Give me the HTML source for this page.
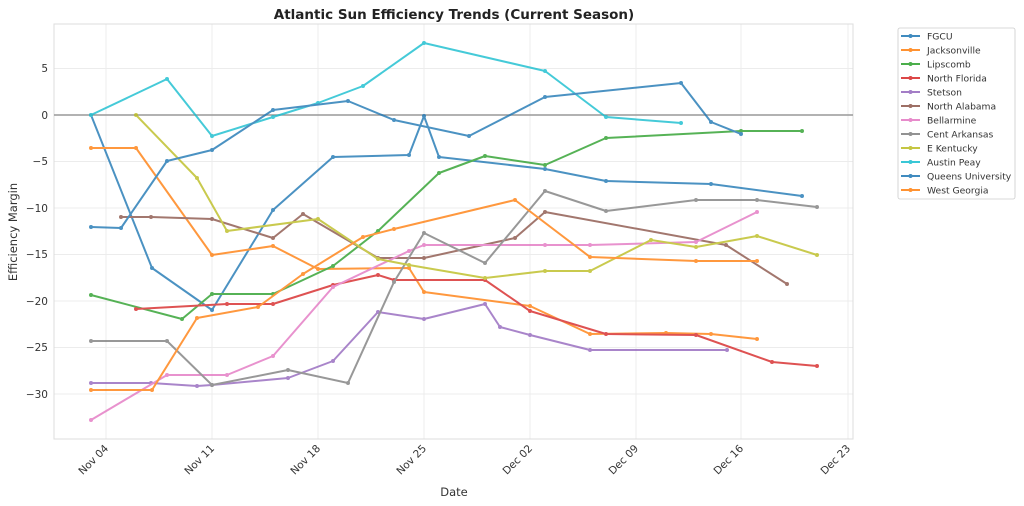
<!DOCTYPE html>
<html><head><meta charset="utf-8"><style>html,body{margin:0;padding:0;background:#fff}svg{display:block}text{font-family:"DejaVu Sans","Liberation Sans",sans-serif;fill:#333}</style></head><body>
<svg width="1024" height="506" viewBox="0 0 1024 506" xmlns="http://www.w3.org/2000/svg">
<defs>
<marker id="m1" markerUnits="userSpaceOnUse" markerWidth="6" markerHeight="6" refX="3" refY="3"><circle cx="3" cy="3" r="2" fill="#1f77b4"/></marker>
<marker id="m2" markerUnits="userSpaceOnUse" markerWidth="6" markerHeight="6" refX="3" refY="3"><circle cx="3" cy="3" r="2" fill="#ff7f0e"/></marker>
<marker id="m3" markerUnits="userSpaceOnUse" markerWidth="6" markerHeight="6" refX="3" refY="3"><circle cx="3" cy="3" r="2" fill="#2ca02c"/></marker>
<marker id="m4" markerUnits="userSpaceOnUse" markerWidth="6" markerHeight="6" refX="3" refY="3"><circle cx="3" cy="3" r="2" fill="#d62728"/></marker>
<marker id="m5" markerUnits="userSpaceOnUse" markerWidth="6" markerHeight="6" refX="3" refY="3"><circle cx="3" cy="3" r="2" fill="#9467bd"/></marker>
<marker id="m6" markerUnits="userSpaceOnUse" markerWidth="6" markerHeight="6" refX="3" refY="3"><circle cx="3" cy="3" r="2" fill="#8c564b"/></marker>
<marker id="m7" markerUnits="userSpaceOnUse" markerWidth="6" markerHeight="6" refX="3" refY="3"><circle cx="3" cy="3" r="2" fill="#e377c2"/></marker>
<marker id="m8" markerUnits="userSpaceOnUse" markerWidth="6" markerHeight="6" refX="3" refY="3"><circle cx="3" cy="3" r="2" fill="#7f7f7f"/></marker>
<marker id="m9" markerUnits="userSpaceOnUse" markerWidth="6" markerHeight="6" refX="3" refY="3"><circle cx="3" cy="3" r="2" fill="#bcbd22"/></marker>
<marker id="m10" markerUnits="userSpaceOnUse" markerWidth="6" markerHeight="6" refX="3" refY="3"><circle cx="3" cy="3" r="2" fill="#17becf"/></marker>
</defs>
<rect width="1024" height="506" fill="#fff"/>
<text x="454" y="19" text-anchor="middle" font-size="13.5" font-weight="bold" style="fill:#222">Atlantic Sun Efficiency Trends (Current Season)</text>
<g stroke="#ececec" stroke-width="1">
<line x1="106" y1="24" x2="106" y2="439"/><line x1="212" y1="24" x2="212" y2="439"/><line x1="318" y1="24" x2="318" y2="439"/><line x1="424" y1="24" x2="424" y2="439"/><line x1="530" y1="24" x2="530" y2="439"/><line x1="636" y1="24" x2="636" y2="439"/><line x1="741" y1="24" x2="741" y2="439"/><line x1="848" y1="24" x2="848" y2="439"/>
<line x1="54" y1="68.5" x2="853" y2="68.5"/><line x1="54" y1="161.5" x2="853" y2="161.5"/><line x1="54" y1="208" x2="853" y2="208"/><line x1="54" y1="254.5" x2="853" y2="254.5"/><line x1="54" y1="301" x2="853" y2="301"/><line x1="54" y1="347.5" x2="853" y2="347.5"/><line x1="54" y1="394" x2="853" y2="394"/>
</g>
<rect x="54" y="24" width="799" height="415" fill="none" stroke="#ddd" stroke-width="1"/>
<line x1="54" y1="115" x2="853" y2="115" stroke="#999" stroke-width="1.5"/>
<g font-size="10.5" text-anchor="end">
<text x="48" y="72">5</text><text x="48" y="119">0</text><text x="48" y="165">−5</text><text x="48" y="212">−10</text><text x="48" y="258">−15</text><text x="48" y="305">−20</text><text x="48" y="351">−25</text><text x="48" y="398">−30</text>
</g>
<g font-size="10.5" text-anchor="end">
<text transform="translate(109,449) rotate(-45)">Nov 04</text><text transform="translate(215,449) rotate(-45)">Nov 11</text><text transform="translate(321,449) rotate(-45)">Nov 18</text><text transform="translate(427,449) rotate(-45)">Nov 25</text><text transform="translate(533,449) rotate(-45)">Dec 02</text><text transform="translate(639,449) rotate(-45)">Dec 09</text><text transform="translate(744,449) rotate(-45)">Dec 16</text><text transform="translate(851,449) rotate(-45)">Dec 23</text>
</g>
<text x="454" y="496" text-anchor="middle" font-size="11.5">Date</text>
<text transform="translate(17,232) rotate(-90)" text-anchor="middle" font-size="11.5">Efficiency Margin</text>
<g fill="none" stroke-width="2" stroke-linejoin="round" opacity="0.8">
<polyline stroke="#1f77b4" marker-start="url(#m1)" marker-mid="url(#m1)" marker-end="url(#m1)" points="91,115 152,268 212,310 273,210 333,157 409,155 424,116 439,157 545,169 606,181 711,184 802,196"/>
<polyline stroke="#ff7f0e" marker-start="url(#m2)" marker-mid="url(#m2)" marker-end="url(#m2)" points="91,148 136,148 212,255 273,246 318,269 409,268 424,292 530,306 590,334 666,333 711,334 757,339"/>
<polyline stroke="#2ca02c" marker-start="url(#m3)" marker-mid="url(#m3)" marker-end="url(#m3)" points="91,295 182,319 212,294 273,294 333,266 378,231 439,173 485,156 545,165 606,138 741,131 802,131"/>
<polyline stroke="#d62728" marker-start="url(#m4)" marker-mid="url(#m4)" marker-end="url(#m4)" points="136,309 227,304 273,304 333,285 378,275 394,280 485,280 530,311 606,334 696,335 772,362 817,366"/>
<polyline stroke="#9467bd" marker-start="url(#m5)" marker-mid="url(#m5)" marker-end="url(#m5)" points="91,383 151,383 197,386 212,385 288,378 333,361 378,312 424,319 485,304 500,327 530,335 590,350 727,350"/>
<polyline stroke="#8c564b" marker-start="url(#m6)" marker-mid="url(#m6)" marker-end="url(#m6)" points="121,217 151,217 212,219 273,238 303,214 378,258 424,258 515,238 545,212 726,245 787,284"/>
<polyline stroke="#e377c2" marker-start="url(#m7)" marker-mid="url(#m7)" marker-end="url(#m7)" points="91,420 167,375 227,375 273,356 333,287 409,251 424,245 545,245 590,245 696,242 757,212"/>
<polyline stroke="#7f7f7f" marker-start="url(#m8)" marker-mid="url(#m8)" marker-end="url(#m8)" points="91,341 167,341 212,385 288,370 348,383 394,282 424,233 485,263 545,191 606,211 696,200 757,200 817,207"/>
<polyline stroke="#bcbd22" marker-start="url(#m9)" marker-mid="url(#m9)" marker-end="url(#m9)" points="136,115 197,178 227,231 318,219 378,259 409,265 485,278 545,271 590,271 651,240 696,247 757,236 817,255"/>
<polyline stroke="#17becf" marker-start="url(#m10)" marker-mid="url(#m10)" marker-end="url(#m10)" points="91,115 167,79 212,136 273,117 318,103 363,86 424,43 545,71 606,117 681,123"/>
<polyline stroke="#1f77b4" marker-start="url(#m1)" marker-mid="url(#m1)" marker-end="url(#m1)" points="91,227 121,228 167,161 212,150 273,110 348,101 394,120 469,136 545,97 681,83 711,122 741,134"/>
<polyline stroke="#ff7f0e" marker-start="url(#m2)" marker-mid="url(#m2)" marker-end="url(#m2)" points="91,390 152,390 197,318 258,307 303,274 363,237 394,229 515,200 590,257 696,261 757,261"/>
</g>
<rect x="898" y="28" width="117" height="171" fill="#fff" stroke="#ccc" stroke-width="0.8" rx="2"/>
<g font-size="9.2">
<g stroke-width="2" opacity="0.85"><polyline points="901,36 910.5,36 920,36" stroke="#1f77b4" marker-mid="url(#m1)"/><polyline points="901,50 910.5,50 920,50" stroke="#ff7f0e" marker-mid="url(#m2)"/><polyline points="901,64 910.5,64 920,64" stroke="#2ca02c" marker-mid="url(#m3)"/><polyline points="901,78 910.5,78 920,78" stroke="#d62728" marker-mid="url(#m4)"/><polyline points="901,92 910.5,92 920,92" stroke="#9467bd" marker-mid="url(#m5)"/><polyline points="901,106 910.5,106 920,106" stroke="#8c564b" marker-mid="url(#m6)"/><polyline points="901,120 910.5,120 920,120" stroke="#e377c2" marker-mid="url(#m7)"/><polyline points="901,134 910.5,134 920,134" stroke="#7f7f7f" marker-mid="url(#m8)"/><polyline points="901,148 910.5,148 920,148" stroke="#bcbd22" marker-mid="url(#m9)"/><polyline points="901,162 910.5,162 920,162" stroke="#17becf" marker-mid="url(#m10)"/><polyline points="901,176 910.5,176 920,176" stroke="#1f77b4" marker-mid="url(#m1)"/><polyline points="901,190 910.5,190 920,190" stroke="#ff7f0e" marker-mid="url(#m2)"/></g>
<text x="927" y="39.5">FGCU</text><text x="927" y="53.5">Jacksonville</text><text x="927" y="67.5">Lipscomb</text><text x="927" y="81.5">North Florida</text><text x="927" y="95.5">Stetson</text><text x="927" y="109.5">North Alabama</text><text x="927" y="123.5">Bellarmine</text><text x="927" y="137.5">Cent Arkansas</text><text x="927" y="151.5">E Kentucky</text><text x="927" y="165.5">Austin Peay</text><text x="927" y="179.5">Queens University</text><text x="927" y="193.5">West Georgia</text>
</g>
</svg>
</body></html>
